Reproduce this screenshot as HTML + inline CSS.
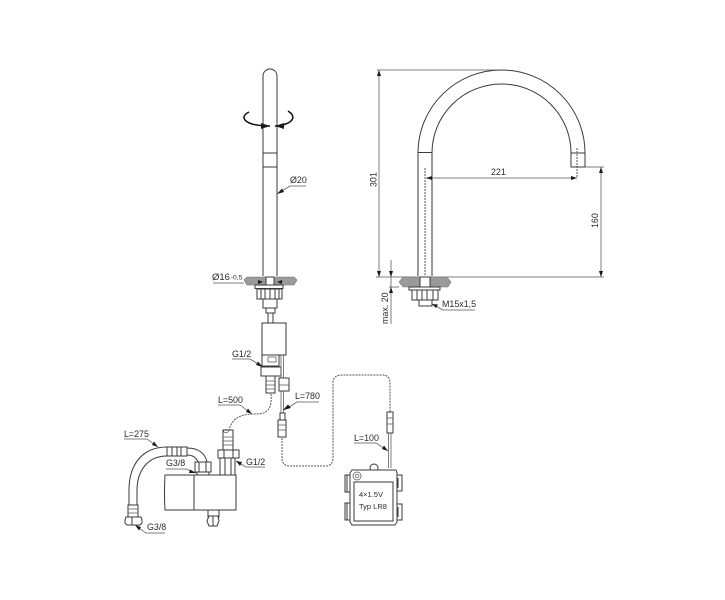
<!DOCTYPE html>
<html><head><meta charset="utf-8"><style>
html,body{margin:0;padding:0;background:#fff}
svg{display:block}
text{font-family:"Liberation Sans",sans-serif;font-size:8.900px;fill:#2a2a2a;stroke:none}
.m{stroke:#3a3a3a;stroke-width:1;fill:none}
.w{stroke:#3a3a3a;stroke-width:1;fill:#fff}
.t{stroke:#555;stroke-width:.75;fill:none}
.d{stroke:#555;stroke-width:1;fill:none;stroke-dasharray:2 1}
.a{fill:#1a1a1a;stroke:none}
.g{fill:#9a9a9a;stroke:#777;stroke-width:.6}
</style></head><body>
<svg width="725" height="600" viewBox="0 0 725 600" xmlns="http://www.w3.org/2000/svg">
<g style="filter:blur(.35px)">
<!-- LEFT FAUCET -->
<path class="m" d="M263 276V76a7 7 0 0 1 14 0V276"/>
<path class="m" d="M263 153H277M263 167H277"/>
<path d="M249 112C241 116 243 121 252 124C258 125.500 264 126 270 126" fill="none" stroke="#111" stroke-width="1.500"/>
<path d="M288 111C296 116 293 121 287 123.500C282 125.500 278 126 275 126" fill="none" stroke="#111" stroke-width="1.500"/>
<path class="a" d="M270 126L261 123V129Z"/><path class="a" d="M275 126L284 123V129Z"/>
<path class="g" d="M244 280L247 277H294L297 280L294 285H247Z"/>
<rect class="w" x="266" y="277" width="8" height="8"/>
<path class="a" d="M263 282L258 280V284ZM277 282L282 280V284Z"/>
<rect class="w" x="255" y="285" width="28" height="3.500" stroke-width="1.700"/>
<rect class="w" x="257" y="289" width="25" height="10"/>
<path class="m" d="M261 289V299M265 289V299M270 289V299M275 289V299M279 289V299" stroke-width="1.400"/>
<rect class="w" x="263" y="299" width="14" height="9"/>
<rect class="w" x="266" y="308" width="9" height="5" stroke-width="1.400"/>
<rect class="w" x="268" y="313" width="5" height="10"/>
<rect class="w" x="262" y="323" width="24" height="32"/>
<rect class="w" x="262" y="355" width="17" height="11"/>
<rect class="t" x="268" y="357" width="8" height="5"/>
<rect class="w" x="261" y="367" width="20" height="9"/>
<rect class="w" x="266" y="376" width="9" height="17"/>
<path class="t" d="M266 381H275M266 385H275M266 389H275"/>
<path class="t" d="M281 355V413M283.500 355V413"/>
<rect class="w" x="279" y="378" width="10" height="13"/>
<path class="t" d="M279 385H289"/>
<!-- cable L=500 -->
<path class="d" d="M271 394C272 405 270 414 257 414C245 414 233 415 229 430"/>
<!-- connector 780 -->
<rect class="w" x="280" y="413" width="5" height="7"/>
<rect class="w" x="278" y="420" width="8" height="17"/>
<path class="t" d="M278 425H286M278 430H286"/>
<path class="d" d="M282 438V458Q282 466 290 466H325Q333 466 333 458V383Q333 375 342 375H382Q390 375 390 383V412"/>
<!-- connector battery -->
<rect class="w" x="387" y="412" width="6" height="21"/>
<path class="t" d="M387 418H393M387 424H393"/>
<path class="t" d="M388.500 433V468M391 433V468"/>
<!-- battery box -->
<circle class="w" cx="374" cy="468" r="4"/>
<rect class="w" x="345" y="475" width="6" height="17"/><rect class="w" x="345" y="503" width="6" height="17"/>
<rect class="w" x="396" y="475" width="6" height="16"/><rect class="w" x="396" y="504" width="6" height="16"/>
<path class="m" d="M347 475V492M347 503V520M398 478V488M398 507V517"/>
<path class="w" d="M352 470H396L397 473V522L395 525H352L350 522V473Z" stroke-width="1.300"/>
<rect class="m" x="354" y="482" width="39" height="39"/>
<circle class="t" cx="357" cy="476" r="4"/><circle class="t" cx="357" cy="476" r="1.800"/>
<text x="359" y="497" style="font-size:7.500px">4×1.5V</text>
<text x="359" y="509" style="font-size:7.500px">Typ LR8</text>
<!-- valve -->
<path class="w" d="M165 475H236V510H165Q164 492 165 475Z"/>
<path class="m" d="M194 475V510"/>
<rect class="w" x="208" y="510" width="11" height="7"/>
<path class="w" d="M209 516H218L219 521L217 526H209L207 521Z"/>
<path class="m" d="M213 516V526"/>
<!-- right connector -->
<rect class="w" x="223" y="430" width="10" height="20"/>
<path class="t" d="M223 437H233M223 441H233M223 445H233"/>
<ellipse class="t" cx="226" cy="431" rx="2.500" ry="1.500"/>
<rect class="w" x="218" y="450" width="21" height="8"/>
<path class="m" d="M224 450V458M233 450V458"/>
<rect class="w" x="220" y="458" width="15" height="17"/>
<path class="m" d="M225 458V475M231 458V475"/>
<!-- hose -->
<path class="m" d="M129 505V490C129 465 142 447 167 447"/>
<path class="m" d="M137 505V491C137 470 148 456 167 456"/>
<rect class="w" x="128" y="505" width="10" height="12"/>
<path class="t" d="M128 509H138M128 513H138"/>
<path class="w" d="M126 517H141L142 520V523L140 525H127L125 523V520Z"/>
<path class="m" d="M132 517V525"/>
<rect class="w" x="167" y="447" width="20" height="9"/>
<path class="m" d="M172 447V456M177 447V456M181 447V456"/>
<path class="m" d="M187 448C198 448 205 453 207 462"/>
<path class="m" d="M187 455C192 455 196 457 198 462"/>
<rect class="w" x="195" y="462" width="16" height="10"/>
<path class="m" d="M199 462V472M206 462V472"/>
<rect class="w" x="197" y="472" width="12" height="3"/>
<!-- LEFT LABELS -->
<text x="290" y="183">Ø20</text>
<path class="t" d="M306 186H290L277 194"/><path class="a" d="M277 194L282 188.500L284 192Z"/>
<text x="212" y="280" style="font-size:9.500px">Ø16</text><text x="231" y="279.500" style="font-size:6.500px">-0,5</text>
<path class="t" d="M213 283H244"/>
<text x="232" y="357">G1/2</text>
<path class="t" d="M232 359H250L263 367"/><path class="a" d="M263 367L256 365L258 361.500Z"/>
<text x="218" y="403">L=500</text>
<path class="t" d="M218 405H240L252 414"/><path class="a" d="M252 414L246 412L248 408.500Z"/>
<text x="295" y="399">L=780</text>
<path class="t" d="M319 402H297L284 410"/><path class="a" d="M283 410L288 404.500L291 408Z"/>
<text x="354" y="441">L=100</text>
<path class="t" d="M354 443H376L388 451"/><path class="a" d="M388 451L382 449L384 445.500Z"/>
<text x="124" y="437">L=275</text>
<path class="t" d="M124 439H147L158 447"/><path class="a" d="M158 447L152 445L154 441.500Z"/>
<text x="166" y="466">G3/8</text>
<path class="t" d="M166 469H186L196 473"/><path class="a" d="M196 473L189 473L190 469.500Z"/>
<text x="246" y="465">G1/2</text>
<path class="t" d="M265 467H246L236 461"/><path class="a" d="M236 461L242 462L240 466Z"/>
<text x="147" y="530">G3/8</text>
<path class="t" d="M165 533H146L135 525"/><path class="a" d="M135 525L141 527L139 530.500Z"/>
<!-- RIGHT FAUCET -->
<path class="m" d="M418 276V153A83.500 83 0 0 1 585 153V167H571V153A69.500 69 0 0 0 432 153V276"/>
<path class="m" d="M418 152.500H432M571 153H585"/>
<path class="d" d="M425 168V276M577 148V178"/>
<path class="t" d="M377 70H500"/>
<path class="t" d="M379 70V277"/>
<path class="a" d="M379 70L377 76H381ZM379 277L377 271H381Z"/>
<text transform="translate(376.500 187) rotate(-90)">301</text>
<path class="t" d="M426 178H577"/>
<path class="a" d="M426 178L432 176V180ZM577 178L571 176V180Z"/>
<text x="491" y="175">221</text>
<path class="t" d="M585 167H604M601 167V277"/>
<path class="a" d="M601 167L599 173H603ZM601 277L599 271H603Z"/>
<text transform="translate(598 228) rotate(-90)">160</text>
<path class="t" d="M376 277H604"/>
<path class="g" d="M399 282L403 277H447L451 282L448 287H403Z"/>
<rect class="w" x="420" y="277" width="10" height="10" stroke-width=".8"/>
<rect class="w" x="409" y="287" width="31" height="3" stroke-width="1.700"/>
<rect class="w" x="412" y="290" width="26" height="10"/>
<path class="m" d="M417 290V300M422 290V300M427 290V300M433 290V300" stroke-width="1.300"/>
<rect class="w" x="419" y="300" width="13" height="6"/>
<path class="t" d="M391 260V324M389 287H399"/>
<path class="a" d="M391 277L389 271H393ZM391 287L389 293H393Z"/>
<text transform="translate(388 324) rotate(-90)">max. 20</text>
<text x="442" y="307">M15x1,5</text>
<path class="t" d="M475 310H443L432 304"/><path class="a" d="M432 304L438 304.500L436 308Z"/>
</g>
</svg>
</body></html>
